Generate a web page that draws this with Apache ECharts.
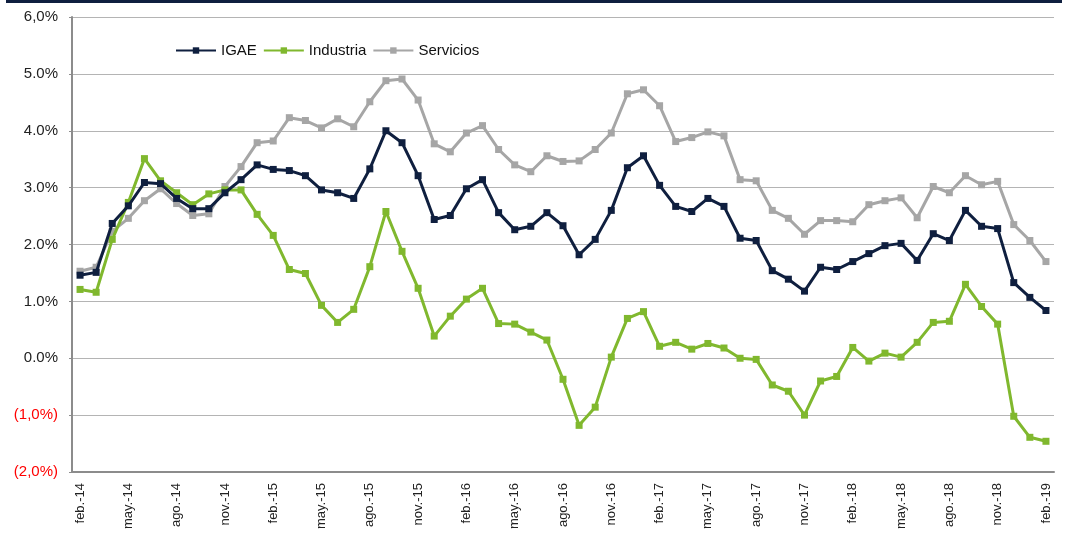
<!DOCTYPE html>
<html>
<head>
<meta charset="utf-8">
<script src="https://cdn.jsdelivr.net/npm/echarts@6/dist/echarts.min.js"></script>
<style>
  html, body { margin: 0; padding: 0; background: #fff; }
  #topbar { position: absolute; left: 6px; top: 0; width: 1056px; height: 3px; background: #0f1f3f; }
  #chart { width: 1067px; height: 535px; }
</style>
</head>
<body>
<div id="topbar"></div>
<div id="chart"></div>
<script>
const months = ['ene', 'feb', 'mar', 'abr', 'may', 'jun', 'jul', 'ago', 'sep', 'oct', 'nov', 'dic']
// feb-14 .. feb-19
const categories = []
for (let y = 14; y <= 19; y++) {
  for (let m = 0; m < 12; m++) {
    if ((y === 14 && m < 1) || (y === 19 && m > 1)) continue
    categories.push(months[m] + '.-' + y)
  }
}

const igae = [
  1.46, 1.51, 2.37, 2.68, 3.09, 3.07, 2.81, 2.63, 2.63, 2.91, 3.14, 3.40,
  3.32, 3.30, 3.21, 2.96, 2.91, 2.81, 3.33, 4.00, 3.79, 3.21, 2.44, 2.51,
  2.98, 3.14, 2.56, 2.26, 2.32, 2.56, 2.33, 1.82, 2.09, 2.60, 3.35, 3.56,
  3.04, 2.67, 2.58, 2.81, 2.67, 2.11, 2.07, 1.54, 1.39, 1.18, 1.60, 1.56,
  1.70, 1.84, 1.98, 2.02, 1.72, 2.19, 2.07, 2.60, 2.32, 2.28, 1.33, 1.07,
  0.84
]
const industria = [
  1.21, 1.16, 2.09, 2.74, 3.51, 3.12, 2.91, 2.70, 2.89, 2.96, 2.96, 2.53,
  2.16, 1.56, 1.49, 0.93, 0.63, 0.86, 1.61, 2.58, 1.88, 1.23, 0.39, 0.74,
  1.04, 1.23, 0.61, 0.60, 0.46, 0.32, -0.37, -1.18, -0.86, 0.02, 0.70, 0.82,
  0.21, 0.28, 0.16, 0.26, 0.18, 0.00, -0.02, -0.47, -0.58, -1.00, -0.40, -0.32,
  0.19, -0.05, 0.09, 0.02, 0.28, 0.63, 0.65, 1.30, 0.91, 0.60, -1.02, -1.39,
  -1.46
]
const servicios = [
  1.53, 1.60, 2.23, 2.46, 2.77, 2.98, 2.72, 2.51, 2.54, 3.02, 3.37, 3.79,
  3.82, 4.23, 4.18, 4.05, 4.21, 4.07, 4.51, 4.88, 4.91, 4.54, 3.77, 3.63,
  3.96, 4.09, 3.67, 3.40, 3.28, 3.56, 3.46, 3.47, 3.67, 3.96, 4.65, 4.72,
  4.44, 3.81, 3.88, 3.98, 3.91, 3.14, 3.12, 2.60, 2.46, 2.18, 2.42, 2.42,
  2.40, 2.70, 2.77, 2.82, 2.47, 3.02, 2.91, 3.21, 3.05, 3.11, 2.35, 2.07,
  1.70
]

const colors = ['#0f1f3f', '#80b82e', '#a6a6a6']

function yLabel (v) {
  if (v < 0) return '(' + Math.abs(v).toFixed(1).replace('.', ',') + '%)'
  if (v === 6) return '6,0%'
  return v.toFixed(1) + '%'
}

function makeSeries (name, data, i) {
  return {
    name: name,
    type: 'line',
    data: data,
    symbol: 'rect',
    symbolSize: 7,
    lineStyle: { width: 3, color: colors[i] },
    itemStyle: { color: colors[i] },
    emphasis: { disabled: true },
    z: 10 - i
  }
}

const myChart = echarts.init(document.getElementById('chart'))
const option = {
  animation: false,
  textStyle: { fontFamily: 'Liberation Sans' },
  grid: { left: 72, right: 13, top: 17, bottom: 63 },
  legend: {
    left: 170,
    top: 38,
    itemWidth: 40,
    itemHeight: 8,
    itemGap: 6,
    textStyle: { fontSize: 15, color: '#111', fontFamily: 'Liberation Sans' },
    data: ['IGAE', 'Industria', 'Servicios']
  },
  xAxis: {
    type: 'category',
    data: categories,
    boundaryGap: true,
    axisLine: { onZero: false, lineStyle: { color: '#8c8c8c', width: 2 } },
    axisTick: { interval: 2, length: 5, lineStyle: { color: '#8c8c8c' } },
    axisLabel: {
      interval: 2,
      rotate: 90,
      fontSize: 13,
      color: '#222',
      margin: 11
    }
  },
  yAxis: {
    type: 'value',
    min: -2,
    max: 6,
    interval: 1,
    axisLine: { show: true, lineStyle: { color: '#8c8c8c', width: 2 } },
    axisTick: { show: true, length: 3, lineStyle: { color: '#8c8c8c' } },
    splitLine: { lineStyle: { color: '#b4b4b4', width: 1 } },
    axisLabel: {
      fontSize: 15,
      margin: 14,
      formatter: yLabel,
      color: (v) => (Number(v) < 0 ? '#ff0000' : '#222')
    }
  },
  series: [
    makeSeries('IGAE', igae, 0),
    makeSeries('Industria', industria, 1),
    makeSeries('Servicios', servicios, 2)
  ]
}
myChart.setOption(option)
</script>
</body>
</html>
